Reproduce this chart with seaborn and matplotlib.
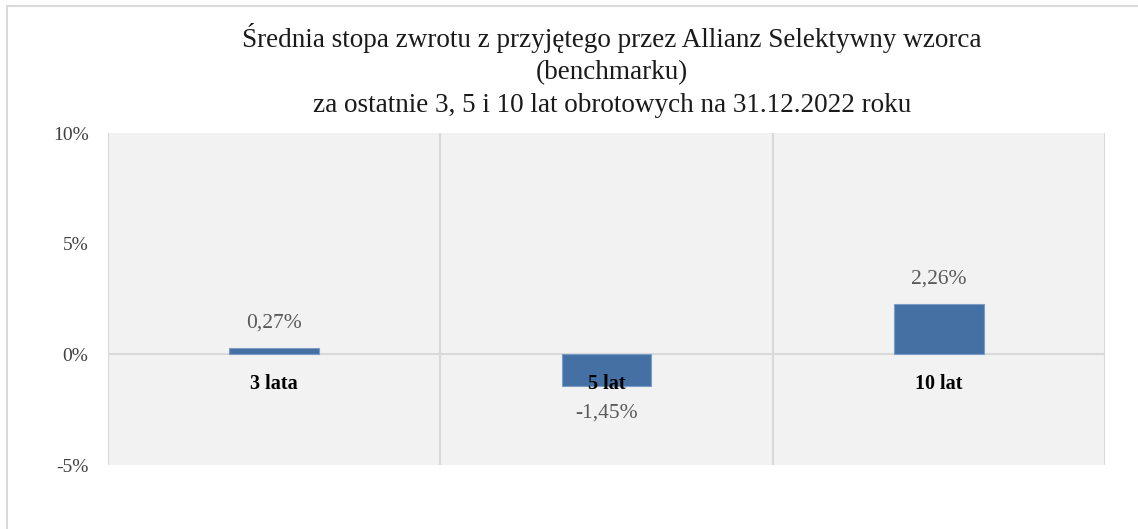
import matplotlib
matplotlib.use('Agg')
import matplotlib.pyplot as plt
import seaborn as sns
import pandas as pd
from matplotlib.patches import Rectangle
from matplotlib.ticker import FuncFormatter

# Dane
okresy = ["3 lata", "5 lat", "10 lat"]
stopy = [0.27, -1.45, 2.26]
etykiety = ["0,27%", "-1,45%", "2,26%"]
tytul = ("Średnia stopa zwrotu z przyjętego przez Allianz Selektywny wzorca\n"
         "(benchmarku)\n"
         "za ostatnie 3, 5 i 10 lat obrotowych na 31.12.2022 roku")

sns.set_theme(style="white")
plt.rcParams['font.family'] = ['Liberation Serif', 'DejaVu Serif']

df = pd.DataFrame({"okres": okresy, "stopa": stopy})

fig = plt.figure(figsize=(11.38, 5.29), dpi=100)
ax = fig.add_axes([108 / 1138, 1 - 465 / 529, 997 / 1138, 332 / 529])

# ramka całego wykresu
fig.patches.append(Rectangle((7 / 1138, -0.1), 1.2, 1.1 - 6 / 529,
                             transform=fig.transFigure, fill=False,
                             edgecolor="#d9d9d9", linewidth=1.5))

ax.set_facecolor("#f2f2f2")
sns.barplot(data=df, x="okres", y="stopa", ax=ax, color="#4470a4",
            width=0.27, edgecolor="#7a9cc6", linewidth=0.8, saturation=1)

ax.set_xlim(-0.5, 2.5)
ax.set_ylim(-5, 10)
ax.set_yticks([-5, 0, 5, 10])
ax.yaxis.set_major_formatter(FuncFormatter(lambda v, p: f"{v:.0f}%"))
ax.tick_params(axis='y', labelsize=14, colors="#404040", pad=14, length=0)
ax.set_xticks([])
ax.set_xlabel("")
ax.set_ylabel("")
for s in ax.spines.values():
    s.set_visible(False)

# linie podziału kategorii i linia zera
for xv in [-0.5, 0.5, 1.5, 2.5]:
    ax.axvline(xv, color="#d9d9d9", linewidth=1.5, zorder=0.5)
ax.axhline(0, color="#d9d9d9", linewidth=1.5, zorder=0.5)

# etykiety wartości
for i, (v, lab) in enumerate(zip(stopy, etykiety)):
    off = 25 if v >= 0 else -27
    ax.annotate(lab, (i, v), xytext=(0, off), textcoords="offset pixels",
                ha="center", va="center", fontsize=15.5, color="#595959")

# nazwy kategorii pod linią zera
for i, name in enumerate(okresy):
    ax.annotate(name, (i, 0), xytext=(0, -30), textcoords="offset pixels",
                ha="center", va="center", fontsize=14.5, fontweight="bold",
                color="black")

fig.text(0.5 * (237 + 987) / 1138, 1 - 23 / 529, tytul, ha="center", va="top",
         fontsize=19.5, color="#1a1a1a", linespacing=1.4)

fig.savefig("out.png", dpi=100)
